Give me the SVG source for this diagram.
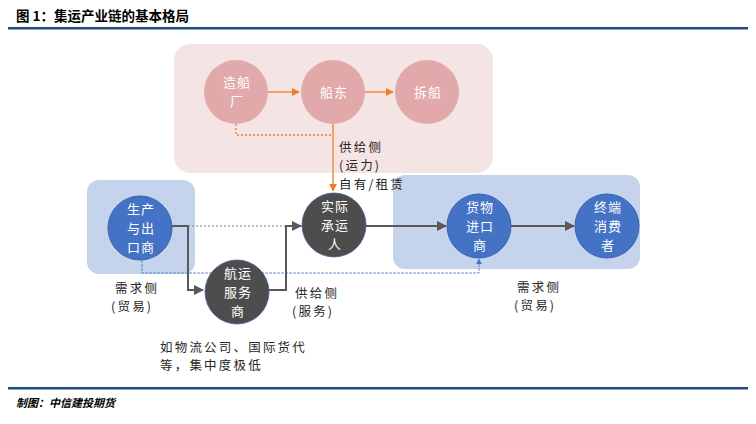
<svg xmlns="http://www.w3.org/2000/svg" width="756" height="424" viewBox="0 0 756 424">
<defs>
<style>
.t{font-family:"Noto Sans CJK SC","Liberation Sans",sans-serif;}
.ct{font-family:"Noto Sans CJK SC",sans-serif;font-size:13px;fill:#ffffff;text-anchor:middle;letter-spacing:1px;}
.lb{font-family:"Noto Sans CJK SC",sans-serif;font-size:12.5px;fill:#262626;letter-spacing:2.2px;}
.pink{fill:#E1A9A9;}
.blue{fill:#4472C4;stroke:#3A63AD;stroke-width:1;}
.dark{fill:#4D4D4D;stroke:#3F5F99;stroke-width:0.8;}
.gc{fill:none;stroke:#595959;stroke-width:2;}
.oc{fill:none;stroke:#ED7D31;stroke-width:1.3;}
</style>
<marker id="ag" viewBox="0 0 10 10" refX="9" refY="5" markerWidth="5" markerHeight="5" orient="auto"><path d="M0,0L10,5L0,10z" fill="#595959"/></marker>
<marker id="ao" viewBox="0 0 10 10" refX="9" refY="5" markerWidth="6" markerHeight="6" orient="auto"><path d="M0,0L10,5L0,10z" fill="#ED7D31"/></marker>
<marker id="ab" viewBox="0 0 10 10" refX="9" refY="5" markerWidth="7" markerHeight="7" orient="auto"><path d="M0,0L10,5L0,10z" fill="#4472C4"/></marker>
</defs>
<rect width="756" height="424" fill="#ffffff"/>
<text class="t" x="16" y="21" font-size="13.5" font-weight="bold" fill="#000">图 1：集运产业链的基本格局</text>
<rect x="8" y="27" width="740" height="2.5" fill="#1F497D"/>
<rect x="8" y="387" width="740" height="2.5" fill="#1F497D"/>
<text class="t" x="16" y="407" font-size="11" font-weight="bold" font-style="italic" fill="#000">制图：中信建投期货</text>

<g id="bg-supply"><rect x="174" y="44" width="319" height="129" rx="16" fill="#F5E4E4"/></g>
<g id="bg-demand-left"><rect x="87" y="180" width="108" height="94" rx="12" fill="#C5D3EC"/></g>
<g id="bg-demand-right"><rect x="393" y="175" width="247" height="94" rx="12" fill="#C5D3EC"/></g>

<g id="connectors">
<path class="oc" d="M268,92H299" marker-end="url(#ao)"/>
<path class="oc" d="M365,92H393" marker-end="url(#ao)"/>
<path class="oc" d="M236,124V135H333" stroke-dasharray="2,2" stroke-width="1"/>
<path class="oc" d="M333,124V191" marker-end="url(#ao)"/>
<path d="M172,226H302" fill="none" stroke="#7F7F7F" stroke-width="1" stroke-dasharray="2,2"/>
<path class="gc" d="M172,226H188V290H203" marker-end="url(#ag)"/>
<path class="gc" d="M268,290H286V226H301" marker-end="url(#ag)"/>
<path class="gc" d="M366,226H446" marker-end="url(#ag)"/>
<path class="gc" d="M511,226H574" marker-end="url(#ag)"/>
<path d="M142,260V273H479V259" fill="none" stroke="#4472C4" stroke-width="0.8" stroke-dasharray="3,1" marker-end="url(#ab)"/>
</g>

<g id="n-shipyard"><circle class="pink" cx="236" cy="92" r="32"/><text class="ct" x="237" y="87">造船</text><text class="ct" x="237" y="106">厂</text></g>
<g id="n-owner"><circle class="pink" cx="333" cy="92" r="32"/><text class="ct" x="334" y="97">船东</text></g>
<g id="n-scrap"><circle class="pink" cx="427" cy="92" r="32"/><text class="ct" x="428" y="97">拆船</text></g>

<g id="n-exporter"><circle class="blue" cx="140" cy="228" r="32"/><text class="ct" x="141" y="214">生产</text><text class="ct" x="141" y="233">与出</text><text class="ct" x="141" y="252">口商</text></g>
<g id="n-carrier"><circle class="dark" cx="334" cy="225" r="32"/><text class="ct" x="335" y="211">实际</text><text class="ct" x="335" y="230">承运</text><text class="ct" x="335" y="249">人</text></g>
<g id="n-service"><circle class="dark" cx="237" cy="292" r="32"/><text class="ct" x="238" y="278">航运</text><text class="ct" x="238" y="297">服务</text><text class="ct" x="238" y="316">商</text></g>
<g id="n-importer"><circle class="blue" cx="479" cy="226" r="32"/><text class="ct" x="480" y="212">货物</text><text class="ct" x="480" y="231">进口</text><text class="ct" x="480" y="250">商</text></g>
<g id="n-consumer"><circle class="blue" cx="607" cy="226" r="32"/><text class="ct" x="608" y="212">终端</text><text class="ct" x="608" y="231">消费</text><text class="ct" x="608" y="250">者</text></g>

<g id="labels">
<text class="lb" x="339" y="152">供给侧</text>
<text class="lb" x="339" y="170">(运力)</text>
<text class="lb" x="339" y="189">自有/租赁</text>
<text class="lb" x="115" y="293">需求侧</text>
<text class="lb" x="111" y="311">(贸易)</text>
<text class="lb" x="295" y="298">供给侧</text>
<text class="lb" x="292" y="316">(服务)</text>
<text class="lb" x="517" y="292">需求侧</text>
<text class="lb" x="514" y="310">(贸易)</text>
<text class="lb" x="160" y="352">如物流公司、国际货代</text>
<text class="lb" x="160" y="370">等，集中度极低</text>
</g>
</svg>
